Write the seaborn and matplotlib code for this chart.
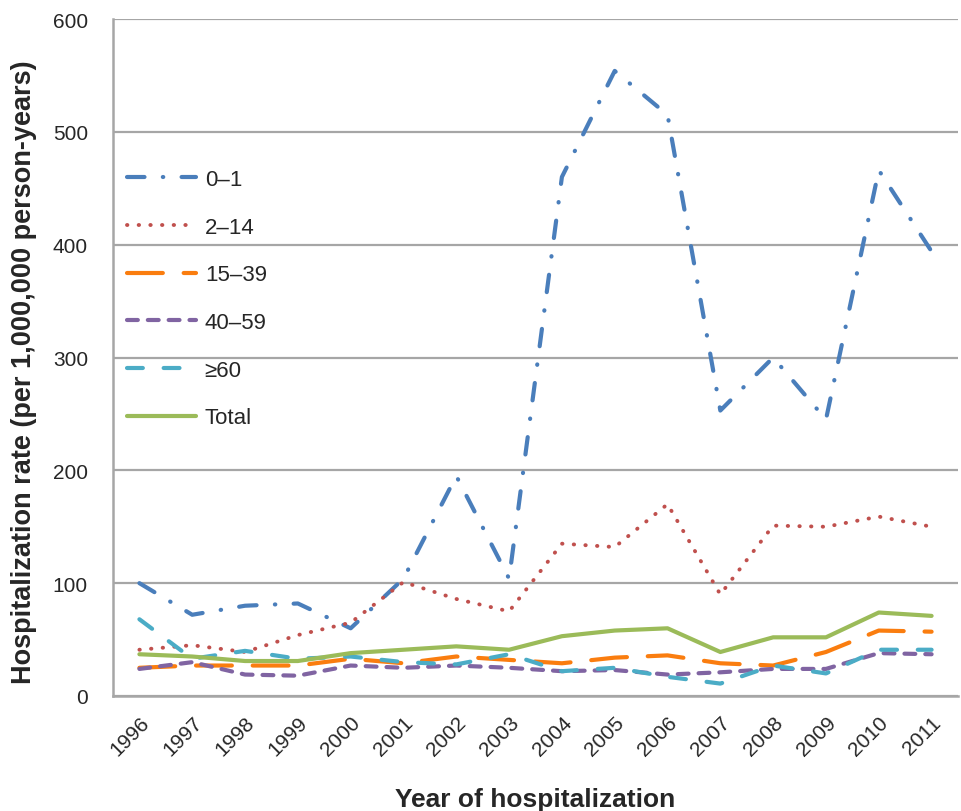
import numpy as np
import pandas as pd
import matplotlib
matplotlib.use("Agg")
import matplotlib.pyplot as plt
import seaborn as sns

# Values
years = [str(y) for y in range(1996, 2012)]
age_0_1 = [100, 72, 80, 82, 60, 104, 195, 104, 460, 554, 515, 253, 300, 245, 466, 394]
age_2_14 = [41, 45, 39, 54, 65, 101, 86, 75, 135, 132, 170, 90, 151, 150, 159, 150]
age_15_39 = [25, 27, 27, 27, 33, 29, 35, 32, 29, 34, 36, 29, 27, 39, 58, 57]
age_40_59 = [24, 30, 19, 18, 27, 25, 27, 25, 22, 23, 19, 21, 24, 24, 38, 37]
age_60_plus = [68, 33, 40, 33, 35, 30, 28, 37, 22, 25, 17, 11, 27, 20, 41, 41]
total = [37, 35, 31, 31, 38, 41, 44, 41, 53, 58, 60, 39, 52, 52, 74, 71]

labels = ['0\u20131', '2\u201314', '15\u201339', '40\u201359', '\u226560', 'Total']
values = [age_0_1, age_2_14, age_15_39, age_40_59, age_60_plus, total]
colors = ['#4A7EBB', '#C0504D', '#FA7D0F', '#8064A2', '#4BACC6', '#9BBB59']
styles = [(0, (4.2, 4.4, 0.1, 4.4)),
          (0, (0.1, 2.9)),
          (0, (8.6, 5.0)),
          (0, (2.6, 2.4)),
          (0, (3.8, 5.0)),
          '-']

sns.set_style('white')
plt.rcParams['font.family'] = ['Liberation Sans', 'DejaVu Sans']

fig = plt.figure(figsize=(9.61, 8.12), dpi=100)
ax = fig.add_axes([113 / 961, 1 - 697 / 812, (958 - 113) / 961, (697 - 20) / 812])

x = np.arange(len(years))
for lab, vals, col, ls in zip(labels, values, colors, styles):
    df = pd.DataFrame({'x': x, 'y': vals})
    lw = 2.8 if lab == '2\u201314' else 3.0
    sns.lineplot(data=df, x='x', y='y', ax=ax, color=col, lw=lw, linestyle=ls,
                 dash_capstyle='round', solid_capstyle='round', label=lab)

grid_col = '#A6A6A6'
ax.set_ylim(0, 600)
ax.set_yticks(range(0, 601, 100))
ax.yaxis.grid(True, color=grid_col, lw=1.6)
ax.set_axisbelow(True)
ax.set_xlim(-0.5, (958 - 139) / 53.7)

ax.set_xticks(x)
ax.set_xticklabels(years, rotation=45, ha='right', va='top', rotation_mode='anchor')
ax.set_xticks(np.arange(-0.5, 15.6, 1), minor=True)
ax.tick_params(axis='x', which='major', length=0, pad=12, labelsize=15)
ax.tick_params(axis='x', which='minor', length=7, width=1.6, color=grid_col, direction='out')
ax.tick_params(axis='y', length=7, width=1.6, color=grid_col, direction='out', pad=11, labelsize=15)

for s in ['top', 'right']:
    ax.spines[s].set_visible(False)
for s in ['left', 'bottom']:
    ax.spines[s].set_color(grid_col)
    ax.spines[s].set_linewidth(1.8)

ax.set_xlabel('Year of hospitalization', fontsize=19, fontweight='bold', labelpad=20)
ax.set_ylabel('Hospitalization rate (per 1,000,000 person-years)', fontsize=19.5,
              fontweight='bold')
ax.yaxis.set_label_coords(-(113 - 37) / 845, (697 - 372) / 677)

ax.legend(loc='upper left', bbox_to_anchor=(127 / 961, 1 - 170 / 812),
          bbox_transform=fig.transFigure, frameon=False, fontsize=16,
          handlelength=3.1, handletextpad=0.4, labelspacing=1.2,
          borderpad=0, borderaxespad=0)

fig.savefig('out.png', dpi=100)
